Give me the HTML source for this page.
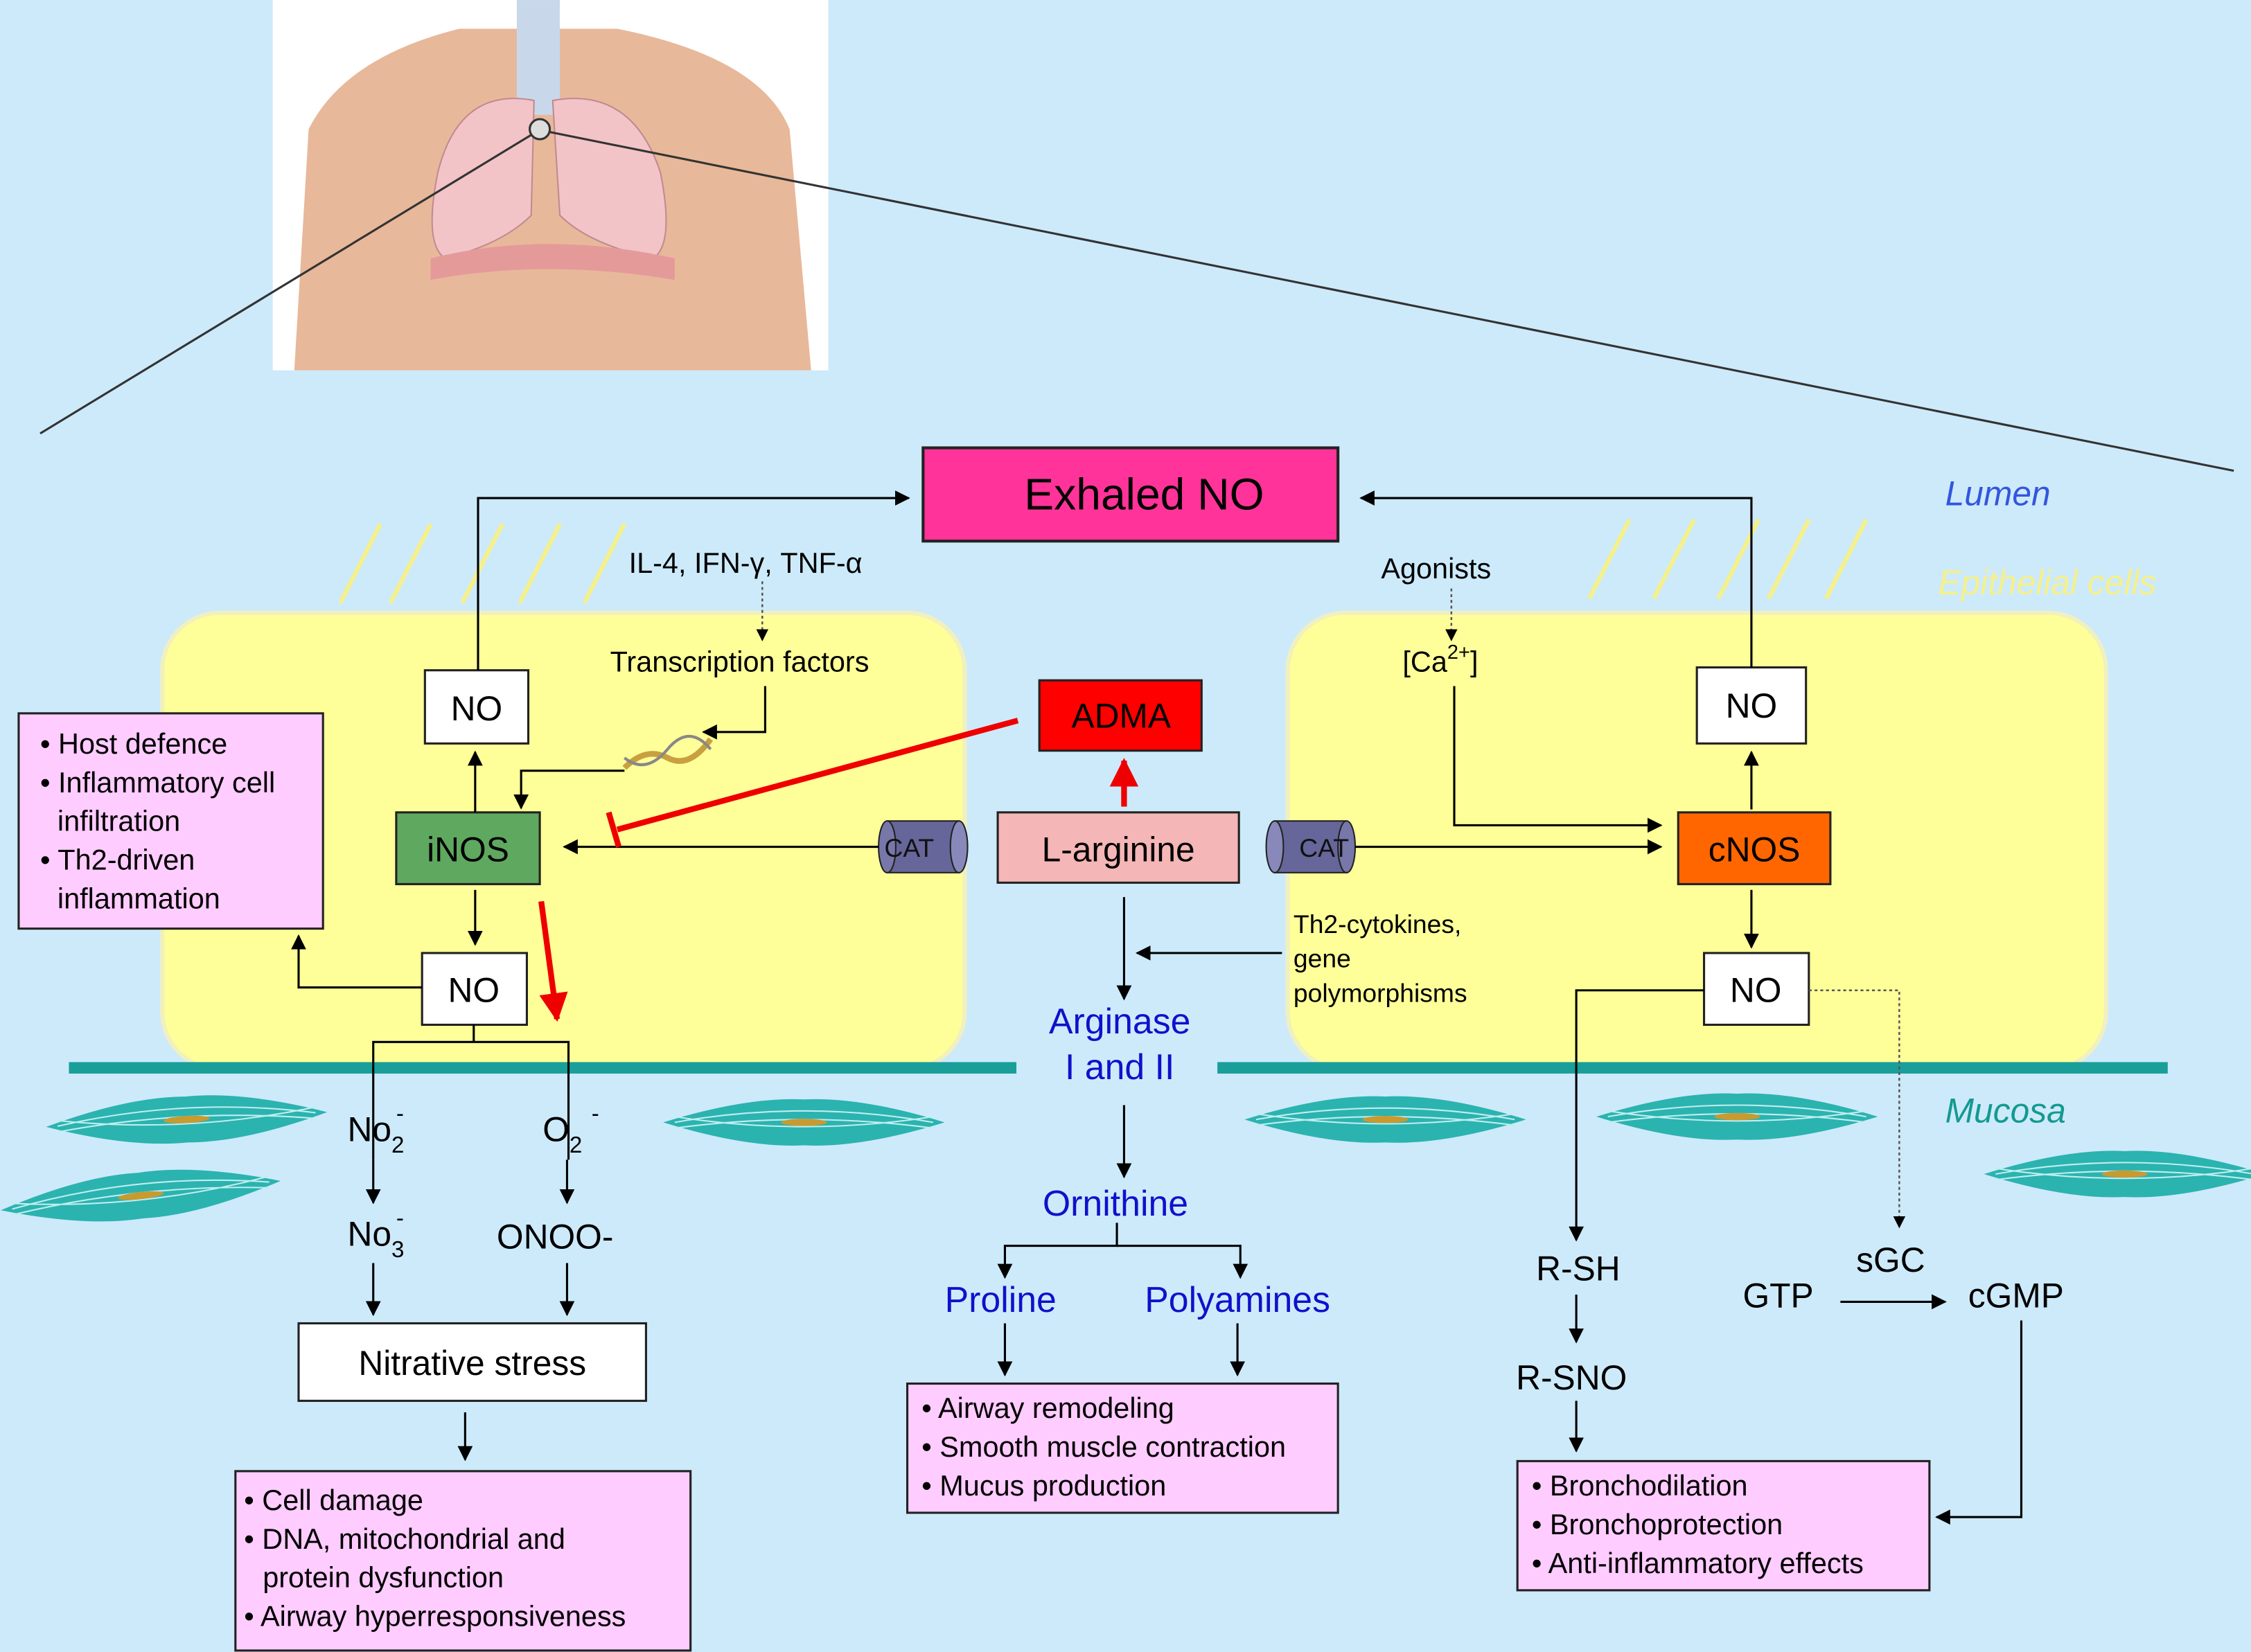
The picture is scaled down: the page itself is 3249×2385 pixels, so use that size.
<!DOCTYPE html>
<html><head><meta charset="utf-8"><style>
html,body{margin:0;padding:0;background:#cdeafa;}
svg{display:block;}
text{font-family:"Liberation Sans",sans-serif;}
</style></head><body>
<svg width="3249" height="2385" viewBox="0 0 1568 1151" xmlns="http://www.w3.org/2000/svg">
<defs>
<marker id="a" viewBox="0 0 10 10" refX="9" refY="5" markerWidth="7" markerHeight="7" orient="auto"><path d="M0,0L10,5L0,10z" fill="#000"/></marker>
<marker id="r" viewBox="0 0 10 10" refX="9" refY="5" markerWidth="5" markerHeight="5" orient="auto"><path d="M0,0L10,5L0,10z" fill="#e00"/></marker>
<g id="mus"><path d="M-98,0 Q-40,-18 0,-16 Q40,-18 98,0 Q40,18 0,16 Q-40,18 -98,0Z" fill="#2bb3b0"/><path d="M-90,0Q0,-16 90,0M-90,4Q0,-8 90,4M-90,-4Q0,10 90,-4" stroke="#bfeeee" stroke-width="1" fill="none"/><ellipse cx="0" cy="0" rx="16" ry="2.5" fill="#c89a30"/></g>
</defs>
<rect width="1568" height="1151" fill="#cdeafa"/>
<!-- torso -->
<rect x="190" y="0" width="387" height="258" fill="#fff"/>
<path d="M205,258 L215,90 Q240,40 320,20 L430,20 Q530,40 550,90 L565,258 Z" fill="#e8b89a"/>
<rect x="360" y="0" width="30" height="80" fill="#c8d8ea"/>
<path d="M372,70 Q320,60 305,120 Q295,170 310,180 Q350,170 370,150 Z" fill="#f2c4c8" stroke="#c08a90"/>
<path d="M385,70 Q440,60 460,120 Q470,170 455,180 Q410,170 390,150 Z" fill="#f2c4c8" stroke="#c08a90"/>
<path d="M300,180 Q380,160 470,180 L470,195 Q380,180 300,195Z" fill="#e59a9a"/>
<circle cx="376" cy="90" r="7" fill="#ddd" stroke="#333" stroke-width="1.5"/>
<line x1="370" y1="94" x2="28" y2="302" stroke="#333" stroke-width="1.5"/>
<line x1="383" y1="92" x2="1556" y2="328" stroke="#333" stroke-width="1.5"/>
<!-- hatch -->
<g stroke="#f5f08a" stroke-width="3">
<line x1="265" y1="365" x2="237" y2="420"/><line x1="300" y1="365" x2="272" y2="420"/><line x1="350" y1="365" x2="322" y2="420"/><line x1="390" y1="365" x2="362" y2="420"/><line x1="435" y1="365" x2="407" y2="420"/>
<line x1="1135" y1="362" x2="1107" y2="417"/><line x1="1180" y1="362" x2="1152" y2="417"/><line x1="1225" y1="362" x2="1197" y2="417"/><line x1="1260" y1="362" x2="1232" y2="417"/><line x1="1300" y1="362" x2="1272" y2="417"/>
</g>
<!-- cells -->
<rect x="113" y="427" width="559" height="318" rx="40" fill="#ffff99" stroke="#f0f0c0" stroke-width="3"/>
<rect x="897" y="427" width="570" height="318" rx="40" fill="#ffff99" stroke="#f0f0c0" stroke-width="3"/>
<rect x="48" y="740" width="660" height="8" fill="#1a9e9a"/>
<rect x="848" y="740" width="662" height="8" fill="#1a9e9a"/>
<use href="#mus" x="130" y="780" transform="rotate(-3 130 780)"/>
<use href="#mus" x="98" y="833" transform="rotate(-6 98 833)"/>
<use href="#mus" x="560" y="782"/>
<use href="#mus" x="965" y="780"/>
<use href="#mus" x="1210" y="778"/>
<use href="#mus" x="1480" y="818"/>
<text x="1355" y="352" font-size="24" font-style="italic" fill="#3355dd">Lumen</text>
<text x="1350" y="414" font-size="24" font-style="italic" fill="#f5f08a">Epithelial cells</text>
<text x="1355" y="782" font-size="24" font-style="italic" fill="#139a90">Mucosa</text>
<!-- Exhaled NO -->
<rect x="643" y="312" width="289" height="65" fill="#ff3399" stroke="#222" stroke-width="2"/>
<text x="797" y="355" font-size="31" text-anchor="middle">Exhaled NO</text>
<!-- boxes -->
<g stroke="#222" stroke-width="1.5">
<rect x="296" y="467" width="72" height="51" fill="#fff"/>
<rect x="276" y="566" width="100" height="50" fill="#5fa85f"/>
<rect x="294" y="664" width="73" height="50" fill="#fff"/>
<rect x="724" y="474" width="113" height="49" fill="#ff0000"/>
<rect x="695" y="566" width="168" height="49" fill="#f4b6b6"/>
<rect x="1169" y="566" width="106" height="50" fill="#ff6600"/>
<rect x="1182" y="465" width="76" height="53" fill="#fff"/>
<rect x="1187" y="664" width="73" height="50" fill="#fff"/>
<rect x="13" y="497" width="212" height="150" fill="#ffccff"/>
<rect x="208" y="922" width="242" height="54" fill="#fff"/>
<rect x="164" y="1025" width="317" height="125" fill="#ffccff"/>
<rect x="632" y="964" width="300" height="90" fill="#ffccff"/>
<rect x="1057" y="1018" width="287" height="90" fill="#ffccff"/>
</g>
<g font-size="24" text-anchor="middle">
<text x="332" y="502">NO</text><text x="326" y="600">iNOS</text><text x="330" y="698">NO</text>
<text x="781" y="507">ADMA</text><text x="779" y="600">L-arginine</text>
<text x="1222" y="600">cNOS</text><text x="1220" y="500">NO</text><text x="1223" y="698">NO</text>
<text x="329" y="958">Nitrative stress</text>
</g>
<g font-size="20">
<text x="28" y="525">• Host defence</text><text x="28" y="552">• Inflammatory cell</text><text x="40" y="579">infiltration</text><text x="28" y="606">• Th2-driven</text><text x="40" y="633">inflammation</text>
<text x="170" y="1052">• Cell damage</text><text x="170" y="1079">• DNA, mitochondrial and</text><text x="183" y="1106">protein dysfunction</text><text x="170" y="1133">• Airway hyperresponsiveness</text>
<text x="642" y="988">• Airway remodeling</text><text x="642" y="1015">• Smooth muscle contraction</text><text x="642" y="1042">• Mucus production</text>
<text x="1067" y="1042">• Bronchodilation</text><text x="1067" y="1069">• Bronchoprotection</text><text x="1067" y="1096">• Anti-inflammatory effects</text>
<text x="438" y="399">IL-4, IFN-γ, TNF-α</text>
<text x="425" y="468">Transcription factors</text>
<text x="962" y="403">Agonists</text>
<text x="977" y="468">[Ca<tspan font-size="14" dy="-9">2+</tspan><tspan dy="9">]</tspan></text>
<text x="901" y="650" font-size="18">Th2-cytokines,</text><text x="901" y="674" font-size="18">gene</text><text x="901" y="698" font-size="18">polymorphisms</text>
</g>
<g font-size="24">
<text x="242" y="795">No<tspan font-size="16" dy="8">2</tspan></text><text x="276" y="781" font-size="16">-</text>
<text x="378" y="795">O<tspan font-size="16" dy="8">2</tspan></text><text x="412" y="781" font-size="16">-</text>
<text x="242" y="868">No<tspan font-size="16" dy="8">3</tspan></text><text x="276" y="854" font-size="16">-</text>
<text x="346" y="870">ONOO-</text>
<text x="1070" y="892">R-SH</text><text x="1056" y="968">R-SNO</text>
<text x="1293" y="886">sGC</text><text x="1214" y="911">GTP</text><text x="1371" y="911">cGMP</text>
</g>
<g font-size="25" fill="#1010cc" text-anchor="middle">
<text x="780" y="720">Arginase</text><text x="780" y="752">I and II</text>
<text x="777" y="847">Ornithine</text>
<text x="697" y="914">Proline</text><text x="862" y="914">Polyamines</text>
</g>
<!-- CAT -->
<g>
<rect x="618" y="572" width="50" height="36" fill="#66669a" stroke="#222"/><ellipse cx="618" cy="590" rx="6" ry="18" fill="#7777aa" stroke="#222"/><ellipse cx="668" cy="590" rx="6" ry="18" fill="#8888bb" stroke="#222"/>
<text x="616" y="597" font-size="18" fill="#111">CAT</text>
<rect x="888" y="572" width="50" height="36" fill="#66669a" stroke="#222"/><ellipse cx="888" cy="590" rx="6" ry="18" fill="#8888bb" stroke="#222"/><ellipse cx="938" cy="590" rx="6" ry="18" fill="#7777aa" stroke="#222"/>
<text x="905" y="597" font-size="18" fill="#111">CAT</text>
</g>
<!-- DNA -->
<path d="M435,535 Q450,520 465,528 T495,515" stroke="#c8a040" stroke-width="4" fill="none"/>
<path d="M435,528 Q450,540 465,522 T495,522" stroke="#888" stroke-width="2" fill="none"/>
<!-- arrows -->
<g stroke="#000" stroke-width="1.5" fill="none" marker-end="url(#a)">
<polyline points="333,467 333,347 633,347"/>
<polyline points="1220,465 1220,347 948,347"/>
<line x1="331" y1="566" x2="331" y2="524"/>
<line x1="331" y1="620" x2="331" y2="658"/>
<polyline points="294,688 208,688 208,652"/>
<polyline points="533,478 533,510 490,510"/>
<polyline points="435,537 363,537 363,563"/>
<line x1="612" y1="590" x2="393" y2="590"/>
<line x1="944" y1="590" x2="1157" y2="590"/>
<polyline points="1013,478 1013,575 1157,575"/>
<line x1="1220" y1="564" x2="1220" y2="524"/>
<line x1="1220" y1="620" x2="1220" y2="660"/>
<line x1="783" y1="625" x2="783" y2="696"/>
<line x1="893" y1="664" x2="792" y2="664"/>
<line x1="783" y1="770" x2="783" y2="820"/>
<polyline points="260,808 260,838"/><polyline points="395,808 395,838"/>
<polyline points="260,880 260,916"/><polyline points="395,880 395,916"/>
<line x1="324" y1="984" x2="324" y2="1017"/>
<polyline points="778,852 778,868 700,868 700,890"/><polyline points="778,868 864,868 864,890"/>
<line x1="700" y1="922" x2="700" y2="958"/><line x1="862" y1="922" x2="862" y2="958"/>
<polyline points="1187,690 1098,690 1098,864"/>
<line x1="1098" y1="902" x2="1098" y2="935"/>
<line x1="1098" y1="976" x2="1098" y2="1011"/>
<line x1="1282" y1="907" x2="1355" y2="907"/>
<polyline points="1408,920 1408,1057 1349,1057"/>
</g>
<polyline points="260,808 260,726 396,726 396,808" stroke="#000" stroke-width="1.5" fill="none"/>
<line x1="330" y1="714" x2="330" y2="726" stroke="#000" stroke-width="1.5"/>
<g stroke="#555" stroke-width="1.2" stroke-dasharray="2,2" fill="none" marker-end="url(#a)">
<line x1="531" y1="405" x2="531" y2="446"/>
<line x1="1011" y1="410" x2="1011" y2="446"/>
<polyline points="1260,690 1323,690 1323,855"/>
</g>
<!-- red -->
<line x1="709" y1="502" x2="430" y2="578" stroke="#e00" stroke-width="4"/>
<line x1="424" y1="566" x2="431" y2="590" stroke="#e00" stroke-width="4"/>
<line x1="783" y1="562" x2="783" y2="530" stroke="#e00" stroke-width="4" marker-end="url(#r)"/>
<line x1="377" y1="628" x2="388" y2="710" stroke="#e00" stroke-width="4" marker-end="url(#r)"/>
</svg>
</body></html>
